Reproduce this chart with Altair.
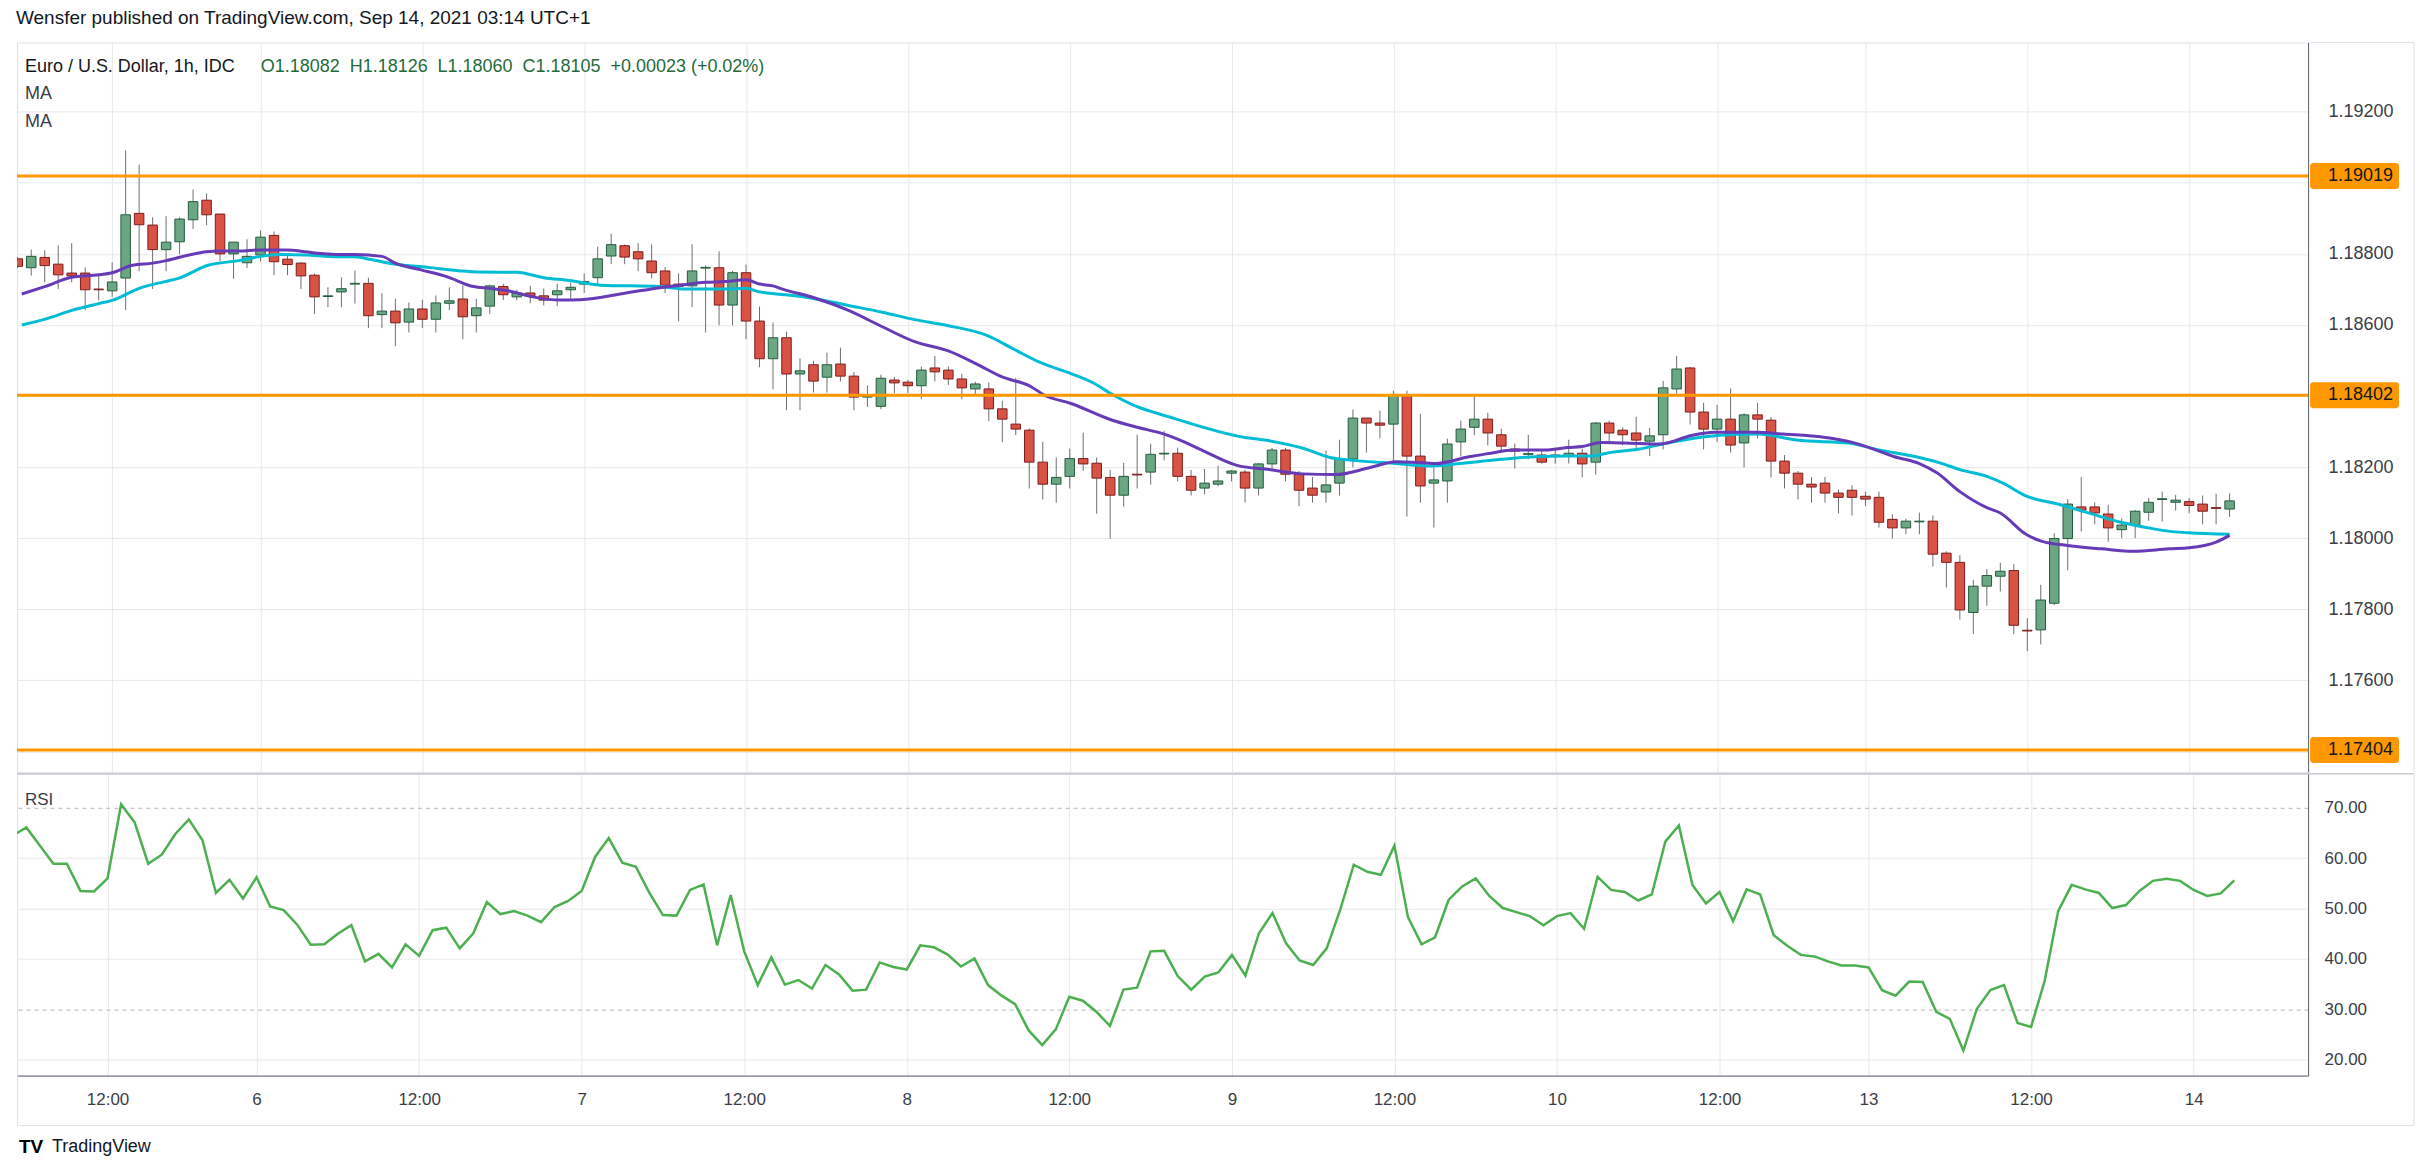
import altair as alt
import pandas as pd

# ---------------- data ----------------
first_bar = -1  # bar index of the first (partly hidden) candle; index 0 = Sep 3 06:00

open_ = [1.18786, 1.18761, 1.18790, 1.18771, 1.18746, 1.18746, 1.18701, 1.18696, 1.18732, 1.18914,
         1.18881, 1.18812, 1.18834, 1.18896, 1.18951, 1.18912, 1.18800, 1.18775, 1.18797, 1.18852,
         1.18785, 1.18774, 1.18740, 1.18680, 1.18693, 1.18715, 1.18717, 1.18629, 1.18639, 1.18608,
         1.18645, 1.18616, 1.18661, 1.18673, 1.18626, 1.18653, 1.18708, 1.18679, 1.18690, 1.18682,
         1.18685, 1.18699, 1.18715, 1.18733, 1.18794, 1.18823, 1.18806, 1.18780, 1.18752, 1.18715,
         1.18710, 1.18760, 1.18761, 1.18656, 1.18747, 1.18611, 1.18505, 1.18564, 1.18462, 1.18488,
         1.18453, 1.18490, 1.18456, 1.18397, 1.18371, 1.18445, 1.18439, 1.18429, 1.18479, 1.18473,
         1.18448, 1.18420, 1.18420, 1.18364, 1.18321, 1.18304, 1.18214, 1.18152, 1.18174, 1.18224,
         1.18211, 1.18171, 1.18121, 1.18180, 1.18186, 1.18237, 1.18239, 1.18174, 1.18141, 1.18152,
         1.18183, 1.18186, 1.18141, 1.18209, 1.18248, 1.18180, 1.18141, 1.18130, 1.18155, 1.18223,
         1.18338, 1.18324, 1.18321, 1.18403, 1.18231, 1.18155, 1.18161, 1.18271, 1.18312, 1.18335,
         1.18291, 1.18251, 1.18236, 1.18234, 1.18234, 1.18231, 1.18239, 1.18214, 1.18324, 1.18304,
         1.18296, 1.18273, 1.18291, 1.18420, 1.18479, 1.18355, 1.18307, 1.18335, 1.18268, 1.18347,
         1.18332, 1.18217, 1.18183, 1.18152, 1.18155, 1.18127, 1.18135, 1.18118, 1.18115, 1.18053,
         1.18029, 1.18046, 1.18048, 1.17958, 1.17932, 1.17791, 1.17865, 1.17893, 1.17909, 1.17741,
         1.17742, 1.17817, 1.17999, 1.18088, 1.18088, 1.18068, 1.18024, 1.18037, 1.18073, 1.18109,
         1.18101, 1.18103, 1.18096, 1.18086, 1.18082]
high = [1.18791, 1.18812, 1.18810, 1.18824, 1.18830, 1.18762, 1.18739, 1.18776, 1.19091, 1.19051,
        1.18903, 1.18906, 1.18903, 1.18981, 1.18970, 1.18912, 1.18833, 1.18841, 1.18866, 1.18863,
        1.18800, 1.18777, 1.18745, 1.18706, 1.18734, 1.18753, 1.18733, 1.18689, 1.18674, 1.18663,
        1.18671, 1.18683, 1.18706, 1.18711, 1.18674, 1.18713, 1.18716, 1.18699, 1.18710, 1.18703,
        1.18716, 1.18719, 1.18745, 1.18820, 1.18857, 1.18826, 1.18830, 1.18827, 1.18763, 1.18745,
        1.18827, 1.18768, 1.18807, 1.18752, 1.18770, 1.18652, 1.18607, 1.18581, 1.18506, 1.18499,
        1.18522, 1.18536, 1.18467, 1.18430, 1.18460, 1.18454, 1.18446, 1.18483, 1.18513, 1.18483,
        1.18463, 1.18440, 1.18438, 1.18387, 1.18451, 1.18309, 1.18271, 1.18227, 1.18252, 1.18297,
        1.18227, 1.18192, 1.18212, 1.18291, 1.18266, 1.18302, 1.18255, 1.18192, 1.18195, 1.18204,
        1.18192, 1.18192, 1.18211, 1.18254, 1.18254, 1.18189, 1.18172, 1.18246, 1.18277, 1.18362,
        1.18338, 1.18359, 1.18415, 1.18415, 1.18350, 1.18206, 1.18280, 1.18331, 1.18400, 1.18353,
        1.18308, 1.18266, 1.18291, 1.18251, 1.18254, 1.18277, 1.18252, 1.18327, 1.18331, 1.18312,
        1.18342, 1.18310, 1.18443, 1.18513, 1.18482, 1.18381, 1.18375, 1.18421, 1.18352, 1.18381,
        1.18341, 1.18234, 1.18189, 1.18172, 1.18172, 1.18137, 1.18149, 1.18131, 1.18131, 1.18067,
        1.18055, 1.18072, 1.18064, 1.17963, 1.17952, 1.17882, 1.17913, 1.17931, 1.17927, 1.17775,
        1.17869, 1.18014, 1.18110, 1.18172, 1.18101, 1.18094, 1.18056, 1.18079, 1.18113, 1.18131,
        1.18122, 1.18113, 1.18120, 1.18125, 1.18126]
low = [1.18760, 1.18739, 1.18720, 1.18701, 1.18720, 1.18642, 1.18669, 1.18679, 1.18642, 1.18751,
       1.18701, 1.18751, 1.18799, 1.18870, 1.18881, 1.18779, 1.18730, 1.18760, 1.18779, 1.18740,
       1.18740, 1.18701, 1.18631, 1.18650, 1.18650, 1.18660, 1.18591, 1.18591, 1.18540, 1.18579,
       1.18591, 1.18579, 1.18642, 1.18560, 1.18579, 1.18631, 1.18670, 1.18670, 1.18661, 1.18655,
       1.18653, 1.18674, 1.18690, 1.18710, 1.18771, 1.18771, 1.18751, 1.18731, 1.18690, 1.18610,
       1.18650, 1.18579, 1.18599, 1.18599, 1.18560, 1.18481, 1.18419, 1.18360, 1.18360, 1.18410,
       1.18410, 1.18441, 1.18360, 1.18369, 1.18363, 1.18408, 1.18408, 1.18391, 1.18441, 1.18431,
       1.18391, 1.18406, 1.18329, 1.18270, 1.18290, 1.18140, 1.18109, 1.18100, 1.18140, 1.18190,
       1.18069, 1.17999, 1.18089, 1.18140, 1.18151, 1.18219, 1.18160, 1.18120, 1.18123, 1.18146,
       1.18160, 1.18100, 1.18120, 1.18193, 1.18160, 1.18090, 1.18100, 1.18100, 1.18120, 1.18199,
       1.18241, 1.18281, 1.18217, 1.18061, 1.18100, 1.18030, 1.18100, 1.18230, 1.18290, 1.18261,
       1.18241, 1.18196, 1.18222, 1.18210, 1.18210, 1.18210, 1.18171, 1.18179, 1.18270, 1.18261,
       1.18250, 1.18231, 1.18250, 1.18407, 1.18320, 1.18250, 1.18270, 1.18241, 1.18199, 1.18281,
       1.18171, 1.18140, 1.18109, 1.18100, 1.18100, 1.18070, 1.18064, 1.18090, 1.18030, 1.17999,
       1.18011, 1.18011, 1.17920, 1.17861, 1.17771, 1.17730, 1.17810, 1.17850, 1.17730, 1.17682,
       1.17701, 1.17812, 1.17910, 1.18019, 1.18039, 1.17990, 1.18000, 1.18000, 1.18049, 1.18047,
       1.18078, 1.18070, 1.18039, 1.18039, 1.18060]
close = [1.18765, 1.18793, 1.18767, 1.18741, 1.18738, 1.18699, 1.18699, 1.18721, 1.18910, 1.18882,
         1.18812, 1.18833, 1.18898, 1.18947, 1.18910, 1.18800, 1.18833, 1.18793, 1.18847, 1.18778,
         1.18770, 1.18738, 1.18679, 1.18682, 1.18702, 1.18717, 1.18626, 1.18639, 1.18606, 1.18645,
         1.18616, 1.18662, 1.18668, 1.18623, 1.18648, 1.18710, 1.18685, 1.18690, 1.18682, 1.18670,
         1.18696, 1.18706, 1.18722, 1.18786, 1.18826, 1.18791, 1.18786, 1.18747, 1.18712, 1.18709,
         1.18752, 1.18762, 1.18656, 1.18747, 1.18611, 1.18505, 1.18564, 1.18462, 1.18471, 1.18442,
         1.18488, 1.18456, 1.18397, 1.18399, 1.18450, 1.18437, 1.18429, 1.18473, 1.18468, 1.18448,
         1.18423, 1.18434, 1.18364, 1.18335, 1.18307, 1.18214, 1.18152, 1.18171, 1.18224, 1.18209,
         1.18169, 1.18121, 1.18174, 1.18178, 1.18236, 1.18239, 1.18174, 1.18135, 1.18155, 1.18161,
         1.18189, 1.18141, 1.18209, 1.18248, 1.18180, 1.18135, 1.18121, 1.18150, 1.18223, 1.18338,
         1.18324, 1.18318, 1.18403, 1.18231, 1.18147, 1.18164, 1.18265, 1.18307, 1.18335, 1.18296,
         1.18259, 1.18245, 1.18238, 1.18214, 1.18232, 1.18239, 1.18209, 1.18324, 1.18296, 1.18291,
         1.18276, 1.18288, 1.18423, 1.18476, 1.18355, 1.18307, 1.18335, 1.18262, 1.18347, 1.18335,
         1.18217, 1.18183, 1.18152, 1.18144, 1.18127, 1.18115, 1.18115, 1.18110, 1.18045, 1.18029,
         1.18048, 1.18048, 1.17955, 1.17932, 1.17798, 1.17865, 1.17895, 1.17907, 1.17755, 1.17739,
         1.17826, 1.17999, 1.18096, 1.18079, 1.18071, 1.18029, 1.18037, 1.18076, 1.18101, 1.18111,
         1.18107, 1.18092, 1.18076, 1.18084, 1.18105]
rsi = [64.5, 66.1, 62.5, 58.9, 58.9, 53.5, 53.4, 56.0, 70.7, 67.1, 58.9,
       60.7, 64.8, 67.7, 63.6, 53.1, 55.7, 52.0, 56.2, 50.4, 49.7,
       46.8, 42.8, 42.9, 45.0, 46.7, 39.5, 41.0, 38.3, 42.9, 40.6,
       45.7, 46.2, 42.1, 45.1, 51.3, 48.9, 49.5, 48.6, 47.3, 50.3,
       51.5, 53.5, 60.3, 64.0, 59.1, 58.3, 53.1, 48.7, 48.6, 53.7,
       54.8, 42.7, 52.7, 41.5, 34.8, 40.3, 34.9, 35.8, 34.1, 38.8,
       36.9, 33.7, 33.9, 39.3, 38.4, 37.9, 42.7, 42.3, 40.9, 38.5,
       40.1, 34.8, 32.7, 31.0, 25.8, 22.9, 26.0, 32.5, 31.7, 29.5,
       26.7, 33.9, 34.3, 41.5, 41.6, 36.6, 33.9, 36.5, 37.3, 40.8,
       36.7, 45.1, 49.1, 43.1, 39.7, 38.8, 42.1, 49.8, 58.7, 57.3,
       56.7, 62.5, 48.3, 42.9, 44.3, 51.7, 54.4, 56.0, 52.5, 50.1,
       49.3, 48.5, 46.7, 48.5, 49.1, 46.0, 56.3, 53.7, 53.3, 51.6,
       52.8, 63.3, 66.5, 54.7, 51.0, 53.3, 47.5, 53.8, 52.8, 44.7,
       42.6, 40.8, 40.5, 39.5, 38.7, 38.7, 38.3, 33.8, 32.7, 35.5,
       35.4, 29.5, 28.1, 21.8, 30.1, 33.8, 34.8, 27.3, 26.5, 35.6,
       49.5, 54.7, 53.8, 53.1, 50.1, 50.7, 53.5, 55.5, 55.9, 55.5,
       53.7, 52.5, 53.0, 55.6]

ma_fast_bar = [-0.7, 1, 3, 5, 6, 7.5, 9, 10, 11.7, 13, 14, 15.4, 17, 19, 20.3, 21.5, 22.7, 24, 26, 27,
               28.9, 30.8, 32.8, 34, 35.5, 37.2, 39.2, 40.7, 44.1, 46.6, 48.5, 50, 51.5, 53, 54, 55,
               55.7, 58.1, 60.6, 63.1, 65.5, 68, 70.4, 71.9, 74.1, 75.1, 77.1, 80, 82, 84, 85,
               86.9, 89.4, 91.8, 94.3, 96.7, 99.2, 101.2, 102.4, 104.1, 106.6, 108, 110, 112.2, 113.9,
               115, 116.4, 118.1, 120.8, 123.1, 124.8, 128, 129.9, 132.9, 135.1, 136.8, 138.1, 140,
               141.3, 143, 145, 146, 147.9, 149.1, 151.1, 153.5, 155.9, 158.5, 160, 162, 163]
ma_fast = [1.18687, 1.18708, 1.18734, 1.18741, 1.18747, 1.18768, 1.18774, 1.18781, 1.18797, 1.18806,
           1.18808, 1.18808, 1.18811, 1.18811, 1.18806, 1.18801, 1.18798, 1.18798, 1.18793, 1.18774,
           1.18755, 1.18736, 1.18708, 1.18703, 1.18695, 1.18679, 1.18670, 1.18671, 1.18690, 1.18705,
           1.18714, 1.18720, 1.18722, 1.18727, 1.18715, 1.18710, 1.18701, 1.18676, 1.18641, 1.18595,
           1.18553, 1.18527, 1.18484, 1.18455, 1.18427, 1.18403, 1.18379, 1.18334, 1.18312, 1.18293,
           1.18279, 1.18246, 1.18205, 1.18193, 1.18181, 1.18179, 1.18198, 1.18215, 1.18214, 1.18210,
           1.18229, 1.18238, 1.18248, 1.18248, 1.18255, 1.18258, 1.18269, 1.18268, 1.18265, 1.18289,
           1.18298, 1.18298, 1.18293, 1.18284, 1.18269, 1.18248, 1.18230, 1.18210, 1.18184, 1.18131,
           1.18086, 1.18071, 1.18011, 1.17991, 1.17979, 1.17970, 1.17963, 1.17970, 1.17973, 1.17989,
           1.18008]
ma_slow_bar = [-0.7, 1.1, 3, 5, 6, 8, 9.9, 10.9, 13.1, 15.4, 17, 18.5, 20.3, 22.7, 24, 25.2, 27,
               29.4, 31.8, 33.1, 36, 38, 39.9, 42.2, 46.6, 48.5, 51.5, 53, 54, 55.7, 58.1, 60.6, 63.1,
               65.5, 68, 70.9, 72.9, 74.9, 76.6, 78.8, 80, 82, 84.4, 86.9, 89.9, 91.8, 94.3, 96.3, 98,
               101.2, 103.6, 105.4, 109, 111.5, 113.9, 115.7, 116.9, 119.1, 121.3, 125, 128, 130.9,
               134.9, 136.8, 140, 141.5, 143, 145, 146.2, 147.9, 150.4, 152.3, 155, 157, 158, 160, 163]
ma_slow = [1.18600, 1.18617, 1.18641, 1.18660, 1.18669, 1.18703, 1.18722, 1.18731, 1.18768, 1.18781,
           1.18793, 1.18798, 1.18797, 1.18792, 1.18792, 1.18784, 1.18771, 1.18762, 1.18752, 1.18749,
           1.18748, 1.18733, 1.18725, 1.18712, 1.18708, 1.18701, 1.18701, 1.18703, 1.18693, 1.18686,
           1.18674, 1.18655, 1.18636, 1.18615, 1.18598, 1.18570, 1.18531, 1.18493, 1.18470, 1.18436,
           1.18408, 1.18370, 1.18341, 1.18312, 1.18284, 1.18274, 1.18253, 1.18227, 1.18219, 1.18210,
           1.18203, 1.18208, 1.18222, 1.18229, 1.18231, 1.18231, 1.18240, 1.18250, 1.18268, 1.18289,
           1.18293, 1.18276, 1.18267, 1.18250, 1.18227, 1.18212, 1.18193, 1.18174, 1.18155, 1.18119,
           1.18095, 1.18074, 1.18044, 1.18029, 1.18022, 1.18015, 1.18011]

level_prices = [1.19019, 1.18402, 1.17404]

tick_bars = [6, 17, 29, 41, 53, 65, 77, 89, 101, 113, 125, 136, 148, 160]
tick_labels = ["12:00", "6", "12:00", "7", "12:00", "8", "12:00", "9", "12:00", "10",
               "12:00", "13", "12:00", "14"]
price_ticks = [1.174, 1.176, 1.178, 1.180, 1.182, 1.184, 1.186, 1.188, 1.190, 1.192]
price_hidden = [1.174, 1.184, 1.190]   # covered by the orange level tags
rsi_ticks = [20, 30, 40, 50, 60, 70]
rsi_bands = [30, 70]

header_text = "Wensfer published on TradingView.com, Sep 14, 2021 03:14 UTC+1"
symbol_text = "Euro / U.S. Dollar, 1h, IDC"
ohlc_items = ["O1.18082", "H1.18126", "L1.18060", "C1.18105", "+0.00023 (+0.02%)"]

# ---------------- styling ----------------
FONT = "Liberation Sans"
W = 2293
H_MAIN = 730
H_RSI = 302
GRID = "#e9e9ea"
AXIS = "#5d606b"
FRAME = "#e0e3eb"
TXT = "#131722"
LBL = "#3b3e47"
UP_FILL, UP_EDGE = "#6ba783", "#225b3c"
DN_FILL, DN_EDGE = "#d95344", "#7b1c1c"
WICK = "#6e6e6e"
ORANGE = "#ff9800"
PURPLE = "#673ab7"
CYAN = "#00bcd4"
RSI_GREEN = "#4caf50"
GAP = "\u00a0\u00a0"   # non-breaking spaces so SVG keeps the wider gaps

bars = list(range(first_bar, first_bar + len(close)))
candles = pd.DataFrame({"bar": bars, "open": open_, "high": high, "low": low,
                        "close": close, "rsi": rsi})
candles["dir"] = ["up" if c >= o else "down" for o, c in zip(open_, close)]
fast_df = pd.DataFrame({"bar": ma_fast_bar, "ma": ma_fast})
slow_df = pd.DataFrame({"bar": ma_slow_bar, "ma": ma_slow})
levels_df = pd.DataFrame({"price": level_prices})
one = pd.DataFrame({"t": [0]})
ohlc_text = GAP.join(ohlc_items)

xscale = alt.Scale(domain=[-0.686, 168.45], nice=False, zero=False)
x_label_expr = ("[" + ",".join("'" + s + "'" for s in tick_labels) + "][indexof(["
                + ",".join(str(v) for v in tick_bars) + "], datum.value)]")
price_label_expr = ("(" + " || ".join("abs(datum.value - %s) < 1e-7" % v for v in price_hidden)
                    + ") ? '' : format(datum.value, '.5f')")


def x_main(field="bar"):
    return alt.X(field + ":Q", scale=xscale,
                 axis=alt.Axis(values=tick_bars, labels=False, ticks=False, domain=False,
                               grid=True, gridColor=GRID, title=None))


def y_main(field):
    return alt.Y(field + ":Q",
                 scale=alt.Scale(domain=[1.173426, 1.193949], nice=False, zero=False),
                 axis=alt.Axis(orient="right", values=price_ticks, labelExpr=price_label_expr,
                               grid=True, gridColor=GRID, domain=True, domainColor=AXIS,
                               ticks=False, tickSize=0, labelPadding=20, labelFontSize=18,
                               labelColor=LBL, labelFont=FONT, title=None))


def x_rsi(field="bar"):
    return alt.X(field + ":Q", scale=xscale,
                 axis=alt.Axis(values=tick_bars, labelExpr=x_label_expr, ticks=False, tickSize=0,
                               domain=True, domainColor=AXIS, grid=True, gridColor=GRID,
                               labelPadding=16, labelFontSize=17, labelColor=LBL, labelFont=FONT,
                               title=None))


band_test = " || ".join("datum.value == %d" % v for v in rsi_bands)


def y_rsi(field):
    return alt.Y(field + ":Q",
                 scale=alt.Scale(domain=[16.83, 76.75], nice=False, zero=False),
                 axis=alt.Axis(orient="right", values=rsi_ticks, format=".2f",
                               grid=True,
                               gridColor={"condition": {"test": band_test, "value": "#b8b8bc"},
                                          "value": GRID},
                               gridDash={"condition": {"test": band_test, "value": [4, 4]},
                                         "value": []},
                               domain=True, domainColor=AXIS, ticks=False, tickSize=0,
                               labelPadding=16, labelFontSize=17, labelColor=LBL,
                               labelFont=FONT, title=None))


def label(text, x, y, size=18, color=TXT, baseline="middle", weight="normal"):
    return alt.Chart(pd.DataFrame({"t": [text]})).mark_text(
        align="left", baseline=baseline, font=FONT, fontSize=size, color=color,
        fontWeight=weight).encode(x=alt.value(x), y=alt.value(y), text="t:N")


def hline(x1, x2, y, color=FRAME, width=1):
    return alt.Chart(one).mark_rule(color=color, strokeWidth=width).encode(
        x=alt.value(x1), x2=alt.value(x2), y=alt.value(y))


def vline(x, y1, y2, color=FRAME, width=1):
    return alt.Chart(one).mark_rule(color=color, strokeWidth=width).encode(
        x=alt.value(x), y=alt.value(y1), y2=alt.value(y2))


# ---------------- price pane ----------------
wicks = alt.Chart(candles).mark_rule(color=WICK, strokeWidth=1, clip=True).encode(
    x=x_main(), y=y_main("low"), y2=alt.Y2("high:Q"))

bodies = alt.Chart(candles).mark_bar(size=9.5, strokeWidth=1, clip=True).encode(
    x=x_main(), y=y_main("open"), y2=alt.Y2("close:Q"),
    color=alt.Color("dir:N", scale=alt.Scale(domain=["up", "down"], range=[UP_FILL, DN_FILL]),
                    legend=None),
    stroke=alt.Stroke("dir:N", scale=alt.Scale(domain=["up", "down"], range=[UP_EDGE, DN_EDGE]),
                      legend=None))

slow_line = alt.Chart(slow_df).mark_line(color=CYAN, strokeWidth=3, clip=True,
                                         interpolate="monotone").encode(
    x=x_main(), y=y_main("ma"))
fast_line = alt.Chart(fast_df).mark_line(color=PURPLE, strokeWidth=3, clip=True,
                                         interpolate="monotone").encode(
    x=x_main(), y=y_main("ma"))

level_lines = alt.Chart(levels_df).mark_rule(color=ORANGE, strokeWidth=3).encode(
    y=y_main("price"))
level_tags = alt.Chart(levels_df).mark_rect(color=ORANGE, cornerRadius=3,
                                            yOffset=-13, y2Offset=13).encode(
    x=alt.value(W + 2), x2=alt.value(W + 91), y=y_main("price"), y2=alt.Y2("price:Q"))
level_text = alt.Chart(levels_df).mark_text(align="left", baseline="middle", font=FONT,
                                            fontSize=18, color=TXT).encode(
    x=alt.value(W + 20), y=y_main("price"), text=alt.Text("price:Q", format=".5f"))

main = alt.layer(
    wicks, bodies, slow_line, fast_line, level_lines, level_tags, level_text,
    label(header_text, -1, -33, size=19, baseline="top"),
    label(symbol_text, 8, 25),
    label(ohlc_text, 244, 25, color="#1f6b3a"),
    label("MA", 8, 52, color=LBL),
    label("MA", 8, 80, color=LBL),
    hline(W, W + 106, 0),
    vline(W + 106, 0, H_MAIN),
).properties(width=W, height=H_MAIN)

# ---------------- RSI pane ----------------
rsi_line = alt.Chart(candles).mark_line(color=RSI_GREEN, strokeWidth=2.5, clip=True).encode(
    x=x_rsi(), y=y_rsi("rsi"))

rsi_pane = alt.layer(
    rsi_line,
    label("RSI", 8, 26, size=17, color=LBL),
    hline(0, W + 106, 0, color="#b2b5be"),
    vline(W + 106, 0, H_RSI + 50),
    vline(0.5, H_RSI, H_RSI + 50),
    hline(0, W + 106, H_RSI + 50),
    label("TV", 2, H_RSI + 71, size=19, color="#000000", weight="bold"),
    label("TradingView", 35, H_RSI + 71, size=18, color=TXT),
).properties(width=W, height=H_RSI)

chart = alt.vconcat(main, rsi_pane, spacing=0).properties(
    padding={"left": 7, "top": 0, "right": 2, "bottom": 0},
    background="white",
).configure_view(stroke=FRAME, strokeWidth=1).configure_text(font=FONT)

chart.save("out.html", embed_options={"renderer": "svg", "actions": False})
